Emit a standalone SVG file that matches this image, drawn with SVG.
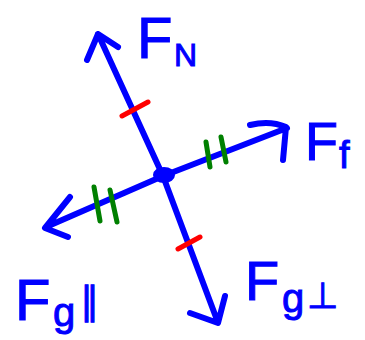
<svg xmlns="http://www.w3.org/2000/svg" width="365" height="340" viewBox="0 0 365 340">
<style>
.v{fill:none;stroke:#0000ff;stroke-width:6;stroke-linecap:round;stroke-linejoin:round}
.r{fill:none;stroke:#ff0000;stroke-width:5;stroke-linecap:round}
.g{fill:none;stroke:#008000;stroke-width:5;stroke-linecap:round}
.t{fill:#0000ff;stroke:#0000ff;stroke-width:1;font-family:"Liberation Sans","DejaVu Sans",sans-serif}
</style>
<rect width="365" height="340" fill="#ffffff"/>
<g id="connectors">
<path class="v" d="M163,176 L98,34 M87,60 L98,34 L118,47"/>
<path class="v" d="M163,176 L287,128 M250,125 Q270,120 286,127 L283,160"/>
<path class="v" d="M163,176 L46,227 M70,197 L45,228 L68,237"/>
<path class="v" d="M163,176 L217,320 M190,313 L218,323 L225,296"/>
<path class="r" d="M122,116 L148,102"/>
<path class="r" d="M178,249 L200,237"/>
<path class="g" d="M206,142 L210,167 M221,137 L226,162"/>
<path class="g" d="M94,187 L100,221 M110,190 L117,222"/>
</g>
<g id="center"><ellipse cx="164" cy="175" rx="11" ry="8" fill="#0000ff"/></g>
<g id="FN"><text class="t" x="137" y="58" font-size="58">F</text><text class="t" x="174" y="66" font-size="32">N</text></g>
<g id="Ff"><text class="t" x="305" y="160" font-size="54">F</text><text class="t" x="339" y="168" font-size="38">f</text></g>
<g id="Fgpar"><text class="t" x="15" y="320" font-size="58">F</text><text class="t" x="53" y="326" font-size="40">g</text><text class="t" x="80" y="314" font-size="38">∥</text></g>
<g id="Fgperp"><text class="t" x="245" y="300" font-size="56">F</text><text class="t" x="282" y="312" font-size="40">g</text><text class="t" x="307" y="308" font-size="36">⊥</text></g>
</svg>
